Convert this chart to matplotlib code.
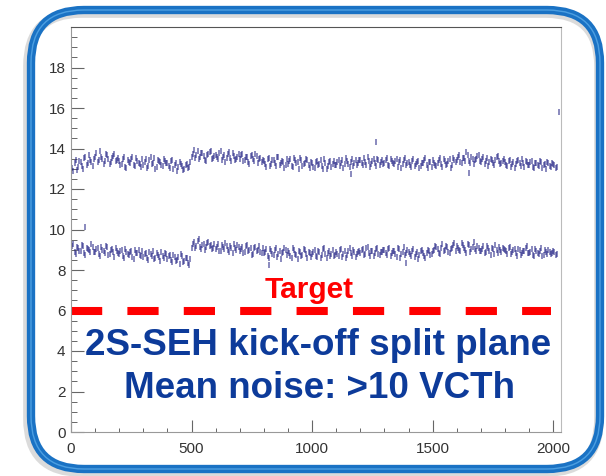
"""Noise per channel, 2S-SEH kick-off split plane, ROOT-style plot in a rounded frame."""
import numpy as np
import matplotlib
matplotlib.use("Agg")
import matplotlib.pyplot as plt
from matplotlib.patches import FancyBboxPatch

noise_top = [
    13.05, 13.3, 12.95, 13.4, 13.15, 13.55, 13.2, 13.7, 13.35, 13.5,
    13.8, 13.45, 13.6, 13.25, 13.75, 13.5, 13.35, 13.65, 13.4, 13.55,
    13.2, 13.5, 13.1, 13.45, 13.3, 13.6, 13.15, 13.4, 13.25, 13.5,
    13.35, 13.05, 13.45, 13.25, 13.55, 13.1, 13.4, 13.2, 13.5, 13.3,
    13.15, 13.4, 13.0, 13.3, 13.1, 13.25, 12.95, 13.2, 13.05, 13.35,
    13.75, 13.55, 13.9, 13.6, 13.8, 13.45, 13.7, 13.85, 13.5, 13.65,
    13.6, 13.8, 13.45, 13.7, 13.55, 13.85, 13.4, 13.65, 13.5, 13.75,
    13.7, 13.4, 13.6, 13.35, 13.65, 13.5, 13.75, 13.3, 13.55, 13.45,
    13.25, 13.5, 13.15, 13.45, 13.3, 13.6, 13.2, 13.4, 13.05, 13.5,
    13.4, 13.15, 13.55, 13.3, 13.0, 13.45, 13.25, 13.5, 13.2, 13.35,
    13.1, 13.35, 13.2, 13.45, 13.0, 13.3, 13.15, 13.4, 13.25, 13.2,
    13.35, 13.15, 13.45, 13.25, 13.4, 13.1, 13.5, 13.3, 13.2, 13.45,
    13.3, 13.55, 13.2, 13.4, 13.25, 13.5, 13.15, 13.45, 13.35, 13.25,
    13.45, 13.2, 13.5, 13.3, 13.4, 13.1, 13.45, 13.25, 13.55, 13.3,
    13.2, 13.4, 13.15, 13.35, 13.05, 13.3, 13.45, 13.2, 13.35, 13.1,
    13.3, 13.15, 13.45, 13.25, 13.5, 13.2, 13.4, 13.05, 13.55, 13.35,
    13.6, 13.35, 13.55, 13.4, 13.7, 13.3, 13.5, 13.45, 13.65, 13.4,
    13.5, 13.25, 13.55, 13.35, 13.45, 13.2, 13.6, 13.4, 13.3, 13.5,
    13.2, 13.4, 13.1, 13.35, 13.25, 13.45, 13.15, 13.3, 13.4, 13.2,
    13.35, 13.1, 13.3, 13.2, 13.4, 13.05, 13.25, 13.35, 13.15, 13.3,
    13.2, 13.1,
]
# upper band, in-between readings at channels 0, 10, 20, ...
noise_top_mid = [
    13.25, 12.9, 13.45, 13.1, 13.35, 13.0, 13.6, 13.3, 13.45, 13.15,
    13.6, 13.35, 13.9, 13.5, 13.4, 13.7, 13.25, 13.55, 13.75, 13.45,
    13.4, 13.25, 13.6, 13.05, 13.35, 13.5, 13.2, 13.55, 13.3, 13.1,
    13.2, 13.5, 13.15, 13.6, 13.3, 13.0, 13.45, 13.35, 13.15, 13.4,
    13.3, 13.05, 13.45, 13.2, 12.9, 13.35, 13.15, 13.0, 13.25, 13.1,
    13.6, 13.95, 13.7, 13.5, 13.8, 13.65, 13.4, 13.75, 13.9, 13.55,
    13.7, 13.5, 13.9, 13.6, 13.35, 13.75, 13.55, 13.8, 13.45, 13.6,
    13.5, 13.75, 13.45, 13.6, 13.25, 13.7, 13.4, 13.65, 13.5, 13.35,
    13.4, 13.1, 13.55, 13.25, 13.45, 13.15, 13.6, 13.3, 13.35, 13.2,
    13.25, 13.5, 13.1, 13.45, 13.35, 13.55, 13.15, 13.3, 13.45, 13.05,
    13.3, 13.05, 13.4, 13.25, 13.15, 13.5, 13.0, 13.35, 13.1, 13.4,
    13.2, 13.45, 13.3, 13.05, 13.55, 13.25, 13.35, 13.15, 13.45, 13.3,
    13.45, 13.2, 13.35, 13.6, 13.1, 13.4, 13.3, 13.5, 13.2, 13.45,
    13.3, 13.55, 13.15, 13.4, 13.25, 13.5, 13.35, 13.05, 13.45, 13.2,
    13.35, 13.1, 13.5, 13.25, 13.4, 13.15, 13.3, 13.55, 13.05, 13.35,
    13.45, 13.2, 13.3, 13.55, 13.1, 13.4, 13.25, 13.5, 13.2, 13.45,
    13.45, 13.7, 13.3, 13.55, 13.85, 13.4, 13.6, 13.25, 13.5, 13.7,
    13.35, 13.6, 13.4, 13.15, 13.5, 13.3, 13.45, 13.65, 13.25, 13.4,
    13.35, 13.15, 13.45, 13.25, 13.05, 13.4, 13.3, 13.5, 13.1, 13.35,
    13.2, 13.4, 13.05, 13.3, 13.15, 13.35, 13.2, 13.0, 13.3, 13.1,
    13.25, 13.05,
]

# lower band (other sensor side), channels 5, 15, 25, ...
noise_bot = [
    9.2, 8.9, 9.15, 8.95, 9.25, 8.85, 9.1, 9.0, 9.3, 8.9,
    9.05, 8.8, 9.15, 8.95, 9.2, 8.75, 9.0, 8.9, 9.1, 8.85,
    8.95, 8.7, 9.05, 8.8, 8.9, 8.65, 9.0, 8.85, 8.75, 8.95,
    8.8, 8.6, 8.9, 8.7, 8.55, 8.85, 8.65, 8.9, 8.6, 8.8,
    8.7, 8.5, 8.75, 8.45, 8.65, 8.8, 8.4, 8.6, 8.35, 8.55,
    9.3, 9.1, 9.45, 9.15, 9.25, 9.0, 9.35, 9.2, 9.05, 9.3,
    9.15, 8.95, 9.25, 9.05, 9.2, 8.9, 9.1, 9.3, 9.0, 9.15,
    9.05, 8.85, 9.2, 8.95, 9.1, 8.8, 9.15, 9.0, 8.9, 9.1,
    8.9, 8.7, 9.05, 8.8, 9.0, 8.65, 8.95, 8.85, 9.1, 8.75,
    8.85, 8.6, 9.0, 8.75, 8.95, 8.7, 9.05, 8.8, 8.9, 8.65,
    8.9, 8.7, 8.95, 8.6, 9.05, 8.8, 8.85, 8.7, 9.0, 8.75,
    8.8, 9.0, 8.65, 8.95, 8.75, 9.1, 8.7, 8.9, 8.8, 8.95,
    9.0, 8.75, 9.1, 8.85, 8.95, 8.7, 9.05, 8.8, 8.9, 9.0,
    8.85, 9.05, 8.7, 8.95, 8.8, 9.1, 8.6, 8.9, 8.75, 9.0,
    8.8, 8.95, 8.65, 8.9, 8.75, 9.0, 8.7, 8.85, 8.95, 8.8,
    9.0, 9.15, 8.85, 9.1, 8.95, 9.2, 8.9, 9.05, 9.25, 8.95,
    9.1, 8.95, 9.25, 9.0, 9.3, 8.9, 9.15, 9.05, 9.2, 8.95,
    9.05, 8.85, 9.2, 8.95, 9.1, 8.8, 9.0, 9.15, 8.9, 9.05,
    8.95, 9.1, 8.8, 9.0, 8.85, 9.05, 8.75, 8.95, 9.1, 8.85,
    8.9, 8.75, 9.05, 8.85, 8.95, 8.7, 9.0, 8.8, 8.9, 8.85,
    8.9, 8.8,
]
# lower band, channels 0, 10, 20, ...
noise_bot_mid = [
    9.0, 9.3, 8.8, 9.1, 8.95, 9.2, 8.75, 9.05, 8.9, 9.15,
    8.9, 9.1, 8.7, 9.0, 8.85, 9.15, 8.8, 9.05, 8.65, 8.95,
    8.8, 9.0, 8.6, 8.9, 8.75, 8.95, 8.55, 8.85, 9.0, 8.7,
    8.65, 8.85, 8.5, 8.8, 8.95, 8.6, 8.75, 8.45, 8.7, 8.85,
    8.55, 8.75, 8.4, 8.65, 8.5, 8.3, 8.7, 8.45, 8.6, 8.25,
    9.1, 9.4, 9.2, 9.55, 9.05, 9.3, 9.15, 9.4, 9.25, 9.1,
    9.05, 9.3, 8.95, 9.15, 9.35, 9.0, 9.2, 8.85, 9.1, 9.25,
    8.95, 9.15, 8.9, 9.25, 9.0, 8.75, 9.1, 8.95, 9.2, 8.85,
    8.85, 9.05, 8.6, 8.95, 8.75, 9.1, 8.8, 8.55, 8.9, 9.0,
    8.95, 8.7, 9.1, 8.8, 8.55, 8.9, 8.75, 9.0, 8.6, 8.85,
    8.8, 9.0, 8.65, 8.9, 8.75, 9.1, 8.6, 8.95, 8.8, 8.7,
    8.9, 8.7, 9.05, 8.8, 8.6, 8.95, 8.85, 9.0, 8.65, 8.9,
    8.85, 9.05, 8.8, 9.15, 8.7, 8.95, 8.85, 9.1, 8.75, 8.9,
    9.0, 8.75, 9.1, 8.85, 8.95, 8.65, 9.05, 8.8, 9.15, 8.85,
    8.9, 8.7, 9.05, 8.8, 8.55, 8.95, 8.85, 8.6, 9.0, 8.75,
    8.95, 9.2, 9.05, 8.8, 9.3, 9.0, 9.15, 8.85, 9.1, 9.35,
    9.2, 9.0, 9.35, 9.1, 8.85, 9.25, 9.05, 9.4, 8.95, 9.1,
    8.95, 9.2, 8.9, 9.1, 8.75, 9.05, 9.25, 8.85, 9.0, 9.1,
    9.0, 8.8, 9.15, 8.9, 9.05, 8.7, 9.0, 8.85, 8.95, 9.2,
    8.85, 9.05, 8.7, 8.95, 8.8, 9.1, 8.75, 8.9, 9.0, 8.8,
    8.95, 8.75,
]

# isolated channels that stick out of the bands
outlier_ch = [60, 820, 1160, 1265, 1390, 1650, 2025]
outlier_val = [10.1, 8.25, 12.75, 14.3, 8.35, 12.8, 15.8]

target = 6.0
xticks = [0, 500, 1000, 1500, 2000]
yticks = [0, 2, 4, 6, 8, 10, 12, 14, 16, 18]

ch_a = np.arange(len(noise_top)) * 10 + 5
ch_b = np.arange(len(noise_top_mid)) * 10
W, H = 606, 476
POINTS = "#1a1a80"
BLUE_TXT = "#0d3b9a"

plt.rcParams["font.family"] = ["Liberation Sans", "DejaVu Sans"]
fig = plt.figure(figsize=(W / 100, H / 100), dpi=100)
ax = fig.add_axes([71 / W, 1 - 432 / H, 490 / W, 405 / H])

mk = dict(ls="none", marker="|", ms=4.5, mew=1.2, color=POINTS, alpha=0.6)
for chs, vals in ((ch_a, noise_top), (ch_b, noise_top_mid),
                  (ch_a, noise_bot), (ch_b, noise_bot_mid)):
    ax.plot(chs, vals, **mk)
ax.plot(outlier_ch, outlier_val, **mk)

# target line
ax.plot([0, 1990], [target, target], color="red", lw=5.8,
        dashes=(3.875, 3.125), solid_capstyle="butt", dash_capstyle="butt")

ax.text(987, 6.62, "Target", color="red", fontsize=21.5, fontweight="bold",
        ha="center", va="baseline")
ax.text(1024, 3.80, "2S-SEH kick-off split plane", color=BLUE_TXT,
        fontsize=26.5, fontweight="bold", ha="center", va="baseline")
ax.text(1030, 1.68, "Mean noise: >10 VCTh", color=BLUE_TXT,
        fontsize=26.5, fontweight="bold", ha="center", va="baseline")

ax.set_xlim(0, 2032)
ax.set_ylim(0, 20)
ax.set_xticks(xticks)
ax.set_yticks(yticks)
ax.set_xticks(np.arange(0, 2001, 100), minor=True)
ax.set_yticks(np.arange(0, 20, 0.5), minor=True)
ax.tick_params(axis="both", which="both", direction="in", colors="#666666",
               labelcolor="#333333")
ax.tick_params(axis="x", which="major", length=9, width=0.8, labelsize=11, pad=7)
ax.tick_params(axis="x", which="minor", length=3, width=0.7)
ax.tick_params(axis="y", which="major", length=9, width=0.8, labelsize=11, pad=4)
ax.tick_params(axis="y", which="minor", length=4, width=0.7)
ax.spines["top"].set_color("#555555")
ax.spines["right"].set_color("#bbbbbb")
ax.spines["left"].set_color("#999999")
ax.spines["bottom"].set_color("#999999")
for s in ax.spines.values():
    s.set_linewidth(0.8)

# rounded blue frame on top, in pixel units
ov = fig.add_axes([0, 0, 1, 1], zorder=5)
ov.set_xlim(0, W)
ov.set_ylim(H, 0)
ov.axis("off")
ov.patch.set_alpha(0)
box = dict(boxstyle="round,pad=0,rounding_size=53", fc="none")
ov.add_patch(FancyBboxPatch((28, 13), 571, 459, ec="#c4c4c4", lw=7,
                            alpha=0.6, **box))
ov.add_patch(FancyBboxPatch((31, 10), 569, 459, ec="#1a72c4", lw=6, **box))
ov.add_patch(FancyBboxPatch((31, 10), 569, 459, ec="#62b2ee", lw=1.0,
                            alpha=0.7, **box))

fig.savefig("out.png", dpi=100)
